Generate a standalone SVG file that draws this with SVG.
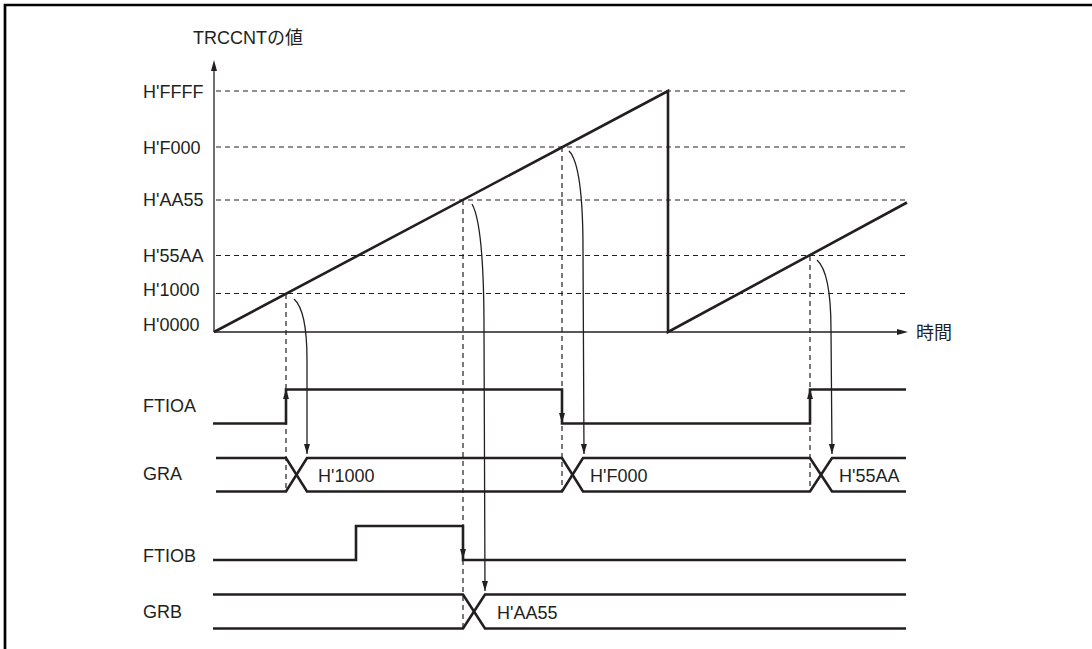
<svg xmlns="http://www.w3.org/2000/svg" width="1092" height="649" viewBox="0 0 1092 649">
<defs>
<style>
text{font-family:"Liberation Sans",Arial,"Noto Sans CJK JP",sans-serif;font-size:18px;fill:#231f20}
.th{fill:none;stroke:#231f20;stroke-width:2.6;stroke-linejoin:miter}
.tn{fill:none;stroke:#231f20;stroke-width:1.3}
.ds{fill:none;stroke:#231f20;stroke-width:1.2;stroke-dasharray:5 4}
.cv{fill:none;stroke:#231f20;stroke-width:1.3;marker-end:url(#ah)}
.ah{fill:#231f20}
</style>
<marker id="ah" viewBox="0 0 10 6" refX="10" refY="3" markerWidth="10" markerHeight="6" markerUnits="userSpaceOnUse" orient="auto">
<path d="M0,0 L10,3 L0,6 Z" fill="#231f20"/>
</marker>
</defs>
<rect width="1092" height="649" fill="#fff"/>
<path d="M5,649 V5 H1092" fill="none" stroke="#000" stroke-width="2.7"/>

<g id="axes">
<line class="tn" x1="214" y1="332" x2="214" y2="70"/>
<path class="ah" d="M214,60 L211,71 L217,71 Z"/>
<line class="tn" x1="214" y1="332" x2="898" y2="332"/>
<path class="ah" d="M908,332 L897,329 L897,335 Z"/>
<text x="193" y="44">TRCCNTの値</text>
<text x="916" y="339">時間</text>
</g>

<g id="levels">
<line class="ds" x1="216" y1="91" x2="907" y2="91"/>
<line class="ds" x1="216" y1="147" x2="907" y2="147"/>
<line class="ds" x1="216" y1="200" x2="907" y2="200"/>
<line class="ds" x1="216" y1="255.5" x2="907" y2="255.5"/>
<line class="ds" x1="216" y1="293.5" x2="907" y2="293.5"/>
<text x="143" y="97.5">H'FFFF</text>
<text x="143" y="153.5">H'F000</text>
<text x="143" y="206">H'AA55</text>
<text x="143" y="262">H'55AA</text>
<text x="143" y="295.5">H'1000</text>
<text x="143" y="331">H'0000</text>
</g>

<g id="counter">
<path class="th" d="M214,332 L668,91 L668,332 L907,202.5"/>
</g>

<g id="connectors">
<line class="ds" x1="286" y1="294" x2="286" y2="492"/>
<line class="ds" x1="463" y1="200" x2="463" y2="628"/>
<line class="ds" x1="562" y1="147" x2="562" y2="492"/>
<line class="ds" x1="810" y1="256" x2="810" y2="492"/>
<path class="cv" d="M294,299 C302,306 307,325 307,360 L307,454"/>
<path class="cv" d="M472,204 C480,218 484,260 484,330 L485,591"/>
<path class="cv" d="M569,151 C578,160 583,190 583,250 L584,454"/>
<path class="cv" d="M817,260 C826,268 831,290 831,330 L832,454"/>
<path class="ah" d="M286,389 L283,399 L289,399 Z"/>
<path class="ah" d="M810,389 L807,399 L813,399 Z"/>
<path class="ah" d="M562,423 L559,413 L565,413 Z"/>
<path class="ah" d="M463,559 L460,549 L466,549 Z"/>
</g>

<g id="FTIOA">
<text x="143" y="412">FTIOA</text>
<path class="th" d="M213,423.5 H286 V389.5 H562 V423.5 H810 V389.5 H906"/>
</g>

<g id="GRA">
<text x="143" y="480">GRA</text>
<path class="th" d="M216,458 H286 L307,491.5 H562 L583,458 H810 L832,491.5 H906"/>
<path class="th" d="M216,491.5 H286 L307,458 H562 L583,491.5 H810 L832,458 H906"/>
<text x="318" y="482">H'1000</text>
<text x="590" y="482">H'F000</text>
<text x="839" y="482">H'55AA</text>
</g>

<g id="FTIOB">
<text x="143" y="562">FTIOB</text>
<path class="th" d="M213,560 H356 V526 H463 V560 H906"/>
</g>

<g id="GRB">
<text x="143" y="618">GRB</text>
<path class="th" d="M213,594.5 H463 L485,628.5 H906"/>
<path class="th" d="M213,628.5 H463 L485,594.5 H906"/>
<text x="497" y="619">H'AA55</text>
</g>
</svg>
